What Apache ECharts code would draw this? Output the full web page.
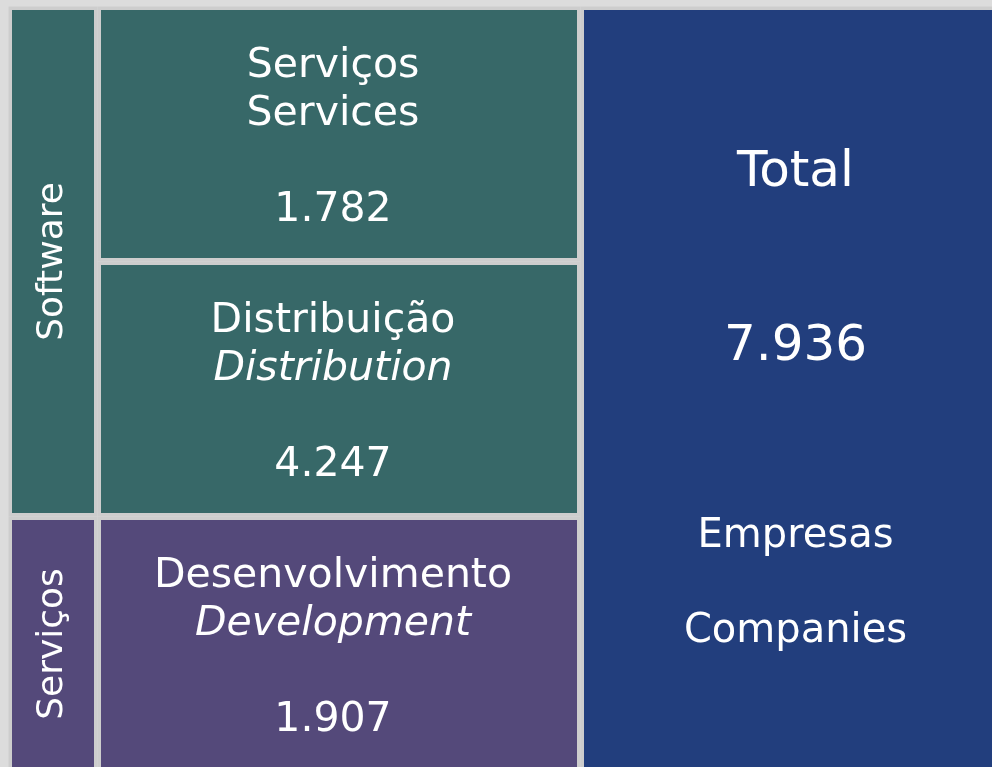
<!DOCTYPE html>
<html>
<head>
<meta charset="utf-8">
<script src="https://cdn.jsdelivr.net/npm/echarts@6/dist/echarts.min.js"></script>
<style>
  html, body { margin: 0; padding: 0; background: #dcdcdc; }
  #chart { width: 992px; height: 767px; }
</style>
</head>
<body>
<div id="chart"></div>
<script>
// groups (left column) and their segments (middle column)
const groupNames = ['Software', 'Serviços'];
const segmentNamesPt = ['Serviços', 'Distribuição', 'Desenvolvimento'];
const segmentNamesEn = ['Services', 'Distribution', 'Development'];
const segmentGroup = ['Software', 'Software', 'Serviços'];
const segmentCompanies = [1782, 4247, 1907];

const totalTitle = 'Total';
const unitPt = 'Empresas';
const unitEn = 'Companies';

const GAP = '#cdcdcd';
const groupColors = { 'Software': '#376868', 'Serviços': '#54497a' };
const totalColor = '#223e7d';
const FONT = 'DejaVu Sans';

const fmt = (v) => String(v).replace(/\B(?=(\d{3})+(?!\d))/g, '.');

const totalCompanies = segmentCompanies.reduce((a, b) => a + b, 0);
// every segment takes one row, a group spans its segments
const groupRows = groupNames.map((g) => segmentGroup.filter((s) => s === g).length);
const rowCount = segmentNamesPt.length;

const chart = echarts.init(document.getElementById('chart'), null, { renderer: 'canvas' });

// the bar border sits inside the bar, so two neighbours leave a 7px gap
// outerBoundsMode none: let the right/bottom cells run past the canvas edge
const grids = [
    { left: 8.5, top: 6.5, width: 89, height: 765, outerBoundsMode: 'none' },
    { left: 97.5, top: 6.5, width: 483, height: 765, outerBoundsMode: 'none' },
    { left: 580.5, top: 6.5, width: 420, height: 765, outerBoundsMode: 'none' },
];

const xAxis = grids.map((_, i) => ({ type: 'category', gridIndex: i, data: ['c'], show: false }));
const yAxis = grids.map((_, i) => ({ type: 'value', gridIndex: i, min: 0, max: rowCount, inverse: true, show: false }));

const barBase = {
    type: 'bar',
    barWidth: '100%',
    silent: true,
};

const series = [];

groupNames.forEach((g, i) => {
    series.push({
        ...barBase,
        name: g,
        stack: 'groups',
        xAxisIndex: 0,
        yAxisIndex: 0,
        data: [groupRows[i]],
        itemStyle: { color: groupColors[g], borderColor: GAP, borderWidth: 3.5 },
        label: {
            show: true,
            position: 'inside',
            rotate: 90,
            formatter: g,
            color: '#fff',
            fontFamily: FONT,
            fontSize: 36,
        },
    });
});

segmentNamesPt.forEach((name, i) => {
    series.push({
        ...barBase,
        name: name,
        stack: 'segments',
        xAxisIndex: 1,
        yAxisIndex: 1,
        data: [1],
        itemStyle: { color: groupColors[segmentGroup[i]], borderColor: GAP, borderWidth: 3.5 },
        label: {
            show: true,
            position: 'inside',
            offset: [-6, 4],
            formatter: `{a|${name}}\n{${i === 0 ? 'a' : 'b'}|${segmentNamesEn[i]}}\n{a| }\n{a|${fmt(segmentCompanies[i])}}`,
            rich: {
                a: { color: '#fff', fontFamily: FONT, fontSize: 41, lineHeight: 48 },
                b: { color: '#fff', fontFamily: FONT, fontSize: 41, lineHeight: 48, fontStyle: 'italic' },
            },
        },
    });
});

series.push({
    ...barBase,
    name: totalTitle,
    xAxisIndex: 2,
    yAxisIndex: 2,
    data: [rowCount],
    itemStyle: { color: totalColor, borderColor: GAP, borderWidth: 3.5 },
    label: {
        show: true,
        position: 'inside',
        offset: [5, 22],
        formatter: `{t|${totalTitle}}\n{g1| }\n{v|${fmt(totalCompanies)}}\n{g2| }\n{c|${unitPt}}\n{c|${unitEn}}`,
        rich: {
            t: { color: '#fff', fontFamily: FONT, fontSize: 50, lineHeight: 60 },
            g1: { fontSize: 10, lineHeight: 104 },
            v: { color: '#fff', fontFamily: FONT, fontSize: 50, lineHeight: 80 },
            g2: { fontSize: 10, lineHeight: 102 },
            c: { color: '#fff', fontFamily: FONT, fontSize: 40, lineHeight: 95 },
        },
    },
});

chart.setOption({
    animation: false,
    backgroundColor: '#dcdcdc',
    grid: grids,
    xAxis: xAxis,
    yAxis: yAxis,
    series: series,
});
</script>
</body>
</html>
